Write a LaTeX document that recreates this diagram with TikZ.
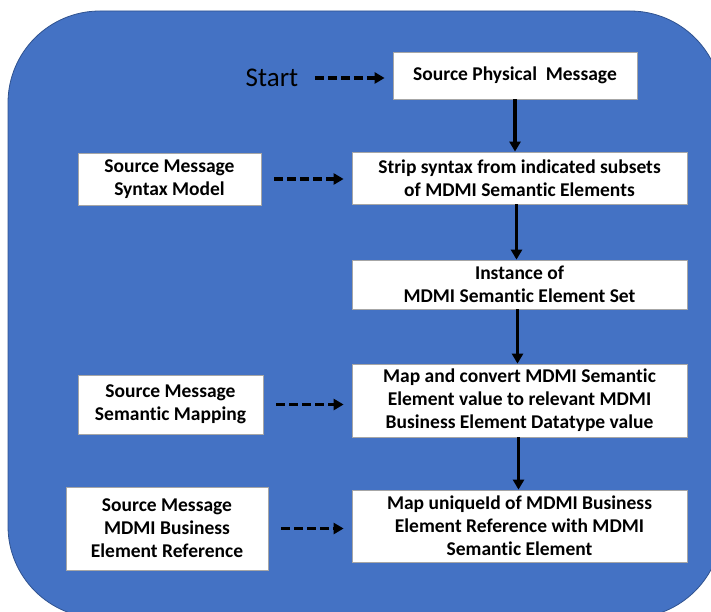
\documentclass[tikz,border=0pt]{standalone}
\usepackage{fontspec}
\setmainfont[Ligatures=NoCommon]{Carlito}
\usetikzlibrary{arrows.meta}
\definecolor{bgblue}{HTML}{4472C4}
\definecolor{bgline}{HTML}{2F528F}
\definecolor{boxline}{HTML}{A6A6A6}
\tikzset{
  stepbox/.style={draw=boxline,line width=0.8pt,fill=white,align=center,inner sep=0pt,
    font=\fontsize{19.5}{23}\selectfont\bfseries},
  flow/.style={line width=3.4pt,-{Triangle[length=10pt,width=11pt]}},
  feed/.style={line width=3.6pt,dash pattern=on 9pt off 4pt,-{Triangle[length=10pt,width=11pt]},
    shorten <=13pt,shorten >=8pt}
}
\begin{document}
\begin{tikzpicture}[x=1pt,y=-1pt]
\useasboundingbox (0,0) rectangle (711,612);
\begin{scope}
\clip (0,0) rectangle (711,612);
\filldraw[fill=bgblue,draw=bgline,line width=0.8pt,rounded corners=92pt] (8,11) rectangle (722,618);
\end{scope}
\node[font=\fontsize{27}{30}\selectfont] (start) at (272,78) {Start};
\node[stepbox,minimum width=244pt,minimum height=47pt] (spm) at (515,75.5) {Source Physical~~Message};
\node[stepbox,minimum width=335pt,minimum height=52pt] (strip) at (519.5,178) {Strip syntax from indicated subsets\\of MDMI Semantic Elements};
\node[stepbox,minimum width=183pt,minimum height=52pt] (syn) at (169.5,179) {Source Message\\Syntax Model};
\node[stepbox,minimum width=335pt,minimum height=49pt] (inst) at (519.5,284.5) {Instance of\\MDMI Semantic Element Set};
\node[stepbox,minimum width=335pt,minimum height=73pt] (mapconv) at (519.5,400.5) {Map and convert MDMI Semantic\\Element value to relevant MDMI\\Business Element Datatype value};
\node[stepbox,minimum width=185pt,minimum height=59pt] (sem) at (170.5,404.5) {Source Message\\Semantic Mapping};
\node[stepbox,minimum width=335pt,minimum height=72pt] (mapuid) at (519.5,526) {Map uniqueId of MDMI Business\\Element Reference with MDMI\\Semantic Element};
\node[stepbox,minimum width=202pt,minimum height=83pt] (biz) at (167,528.5) {Source Message\\MDMI Business\\Element Reference};
\draw[flow] (spm.south) -- (spm.south |- strip.north);
\draw[flow] ([xshift=-3pt]strip.south) -- ([xshift=-3pt]inst.north);
\draw[flow] ([xshift=-2pt]inst.south) -- ([xshift=-2pt]mapconv.north);
\draw[flow] ([xshift=-1pt]mapconv.south) -- ([xshift=-1pt]mapuid.north);
\draw[feed] (start.east) -- (start.east -| spm.west);
\draw[feed] (syn.east) -- (syn.east -| strip.west);
\draw[feed] (sem.east) -- (sem.east -| mapconv.west);
\draw[feed] (biz.east) -- (biz.east -| mapuid.west);
\end{tikzpicture}
\end{document}
